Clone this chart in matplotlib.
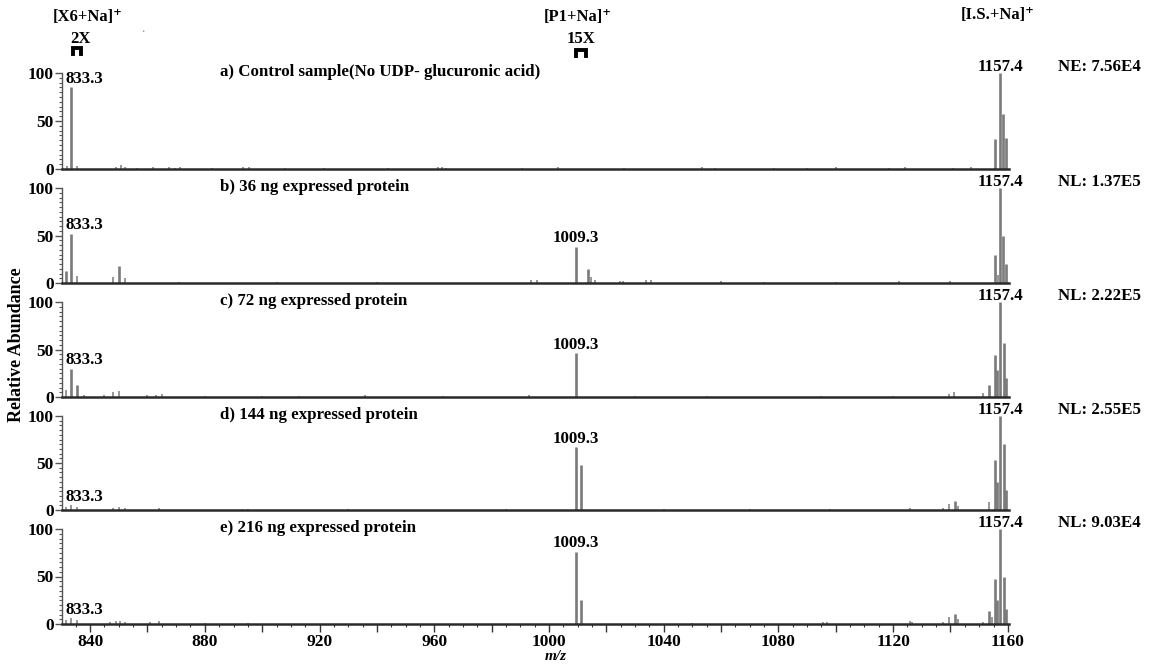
import matplotlib
matplotlib.use("Agg")
import matplotlib.pyplot as plt
import matplotlib.transforms as mtransforms
from matplotlib.ticker import MultipleLocator, FixedLocator, FixedFormatter
from matplotlib.lines import Line2D

plt.rcParams['font.family'] = ['Liberation Serif', 'DejaVu Serif']
plt.rcParams['font.weight'] = 'bold'

# ---------------- data ----------------
panel_titles = ["a) Control sample(No UDP- glucuronic acid)",
                "b) 36 ng expressed protein",
                "c) 72 ng expressed protein",
                "d) 144 ng expressed protein",
                "e) 216 ng expressed protein"]
norm_labels = ["NE: 7.56E4", "NL: 1.37E5", "NL: 2.22E5", "NL: 2.55E5", "NL: 9.03E4"]

mz_a = [831.8, 833.3, 835.5, 849.2, 850.6, 852.2, 856.3, 862.1, 867.6, 869.7, 871.4,
        882.5, 893.2, 895.4, 908.0, 921.6, 944.0, 961.3, 962.6, 964.2, 990.5, 1003.1,
        1026.0, 1053.2, 1058.0, 1078.4, 1090.0, 1100.2, 1118.5, 1124.3, 1141.0, 1147.2,
        1155.4, 1157.4, 1158.4, 1159.4]
int_a = [3, 85, 3, 2, 4, 2, 1.5, 2, 2, 1.5, 2,
         1.5, 2, 2, 1.5, 1.5, 1.5, 2, 2.5, 1.5, 1.5, 2,
         1.5, 2, 1.5, 1.5, 1.5, 2, 1.5, 2, 1.5, 2,
         31, 100, 57, 32]

mz_b = [831.7, 833.3, 835.5, 848.0, 850.0, 852.0, 871.0, 905.0, 940.0, 993.6, 995.7,
        1009.3, 1013.6, 1014.5, 1016.0, 1024.7, 1025.8, 1034.0, 1035.4, 1060.0, 1075.0,
        1100.0, 1122.0, 1140.0, 1155.4, 1156.4, 1157.4, 1158.4, 1159.4]
int_b = [13, 52, 7, 6, 18, 5, 1.5, 1.5, 1.5, 3, 3,
         38, 15, 6, 3, 2, 2, 3, 3, 2, 1.5,
         1.5, 2, 2, 30, 8, 100, 50, 20]

mz_c = [831.6, 833.3, 835.3, 838.0, 845.0, 848.0, 850.0, 860.0, 863.0, 865.0, 880.0,
        900.0, 913.0, 936.0, 963.0, 993.0, 1009.3, 1030.0, 1055.0, 1095.0, 1120.0,
        1139.5, 1141.3, 1151.3, 1153.5, 1155.4, 1156.3, 1157.4, 1158.5, 1159.5]
int_c = [7, 30, 13, 2, 2, 5, 6, 2, 2, 3, 1.5,
         1.5, 1.5, 2, 1.5, 2, 46, 1.5, 1.5, 1.5, 1.5,
         3, 5, 4, 13, 44, 28, 100, 57, 20]

mz_d = [831.6, 833.3, 835.3, 848.0, 850.0, 852.0, 864.0, 893.0, 895.0, 930.0, 985.0,
        1009.3, 1011.3, 1040.0, 1070.0, 1098.0, 1126.0, 1137.5, 1139.5, 1141.5, 1142.5,
        1153.5, 1155.4, 1156.3, 1157.4, 1158.5, 1159.5]
int_d = [3, 5, 3, 2, 3, 2, 2, 1.5, 1.5, 1.5, 1.5,
         67, 48, 1.5, 1.5, 1.5, 2, 2, 6, 10, 4,
         9, 53, 30, 100, 70, 21]

mz_e = [831.6, 833.3, 835.3, 847.0, 849.0, 850.5, 852.0, 861.0, 864.0, 880.0, 895.0,
        1009.3, 1011.3, 1050.0, 1095.5, 1097.0, 1125.8, 1126.5, 1137.3, 1139.5, 1141.5,
        1142.5, 1151.3, 1153.5, 1154.5, 1155.4, 1156.3, 1157.4, 1158.5, 1159.5]
int_e = [4, 6, 4, 2, 3, 3, 2, 2, 3, 1.5, 1.5,
         76, 25, 1.5, 2, 2, 3, 2, 2, 7, 11,
         5, 2, 14, 7, 47, 25, 100, 50, 16]

mz_series = [mz_a, mz_b, mz_c, mz_d, mz_e]
int_series = [int_a, int_b, int_c, int_d, int_e]

label_833 = 833.3
label_1009 = 1009.3
label_1157 = 1157.4
xticks_major = [840, 860, 880, 900, 920, 940, 960, 980, 1000, 1020, 1040, 1060, 1080,
                1100, 1120, 1140, 1160]
xtick_labels = ["840", "", "880", "", "920", "", "960", "", "1000", "", "1040", "",
                "1080", "", "1120", "", "1160"]

# ---------------- layout ----------------
W, H = 1153, 664
fig = plt.figure(figsize=(W / 100, H / 100), dpi=100)
left_px, right_px = 62, 1009
panels_px = [(73, 169), (188, 283), (302, 397), (416, 510), (529, 624)]
peak_col = '#7a7a7a'

for i, (top, bot) in enumerate(panels_px):
    ax = fig.add_axes([left_px / W, 1 - bot / H, (right_px - left_px) / W, (bot - top) / H])
    mz = mz_series[i]
    it = int_series[i]
    lws = [1.9 if v >= 10 else 1.1 for v in it]
    ax.vlines(mz, 0, it, colors=peak_col, linewidth=lws)
    ax.set_xlim(830.2, 1160.4)
    ax.set_ylim(0, 100)
    for s in ['top', 'right']:
        ax.spines[s].set_visible(False)
    ax.spines['left'].set_color('#555555')
    ax.spines['left'].set_linewidth(1.0)
    ax.spines['bottom'].set_color('#2a2a2a')
    ax.spines['bottom'].set_linewidth(1.8)
    ax.yaxis.set_major_locator(FixedLocator([0, 50, 100]))
    ax.yaxis.set_minor_locator(MultipleLocator(5))
    ax.tick_params(axis='y', which='major', direction='out', length=5, width=1,
                   color='#555555', labelsize=12.5, pad=1)
    ax.tick_params(axis='y', which='minor', direction='out', length=2.5, width=0.8,
                   color='#555555')
    for lab in ax.get_yticklabels():
        lab.set_fontweight('bold')
    if i == 4:
        ax.xaxis.set_major_locator(FixedLocator(xticks_major))
        ax.xaxis.set_major_formatter(FixedFormatter(xtick_labels))
        ax.xaxis.set_minor_locator(MultipleLocator(5))
        ax.tick_params(axis='x', which='major', direction='out', length=5.5, width=1,
                       color='#333333', labelsize=12.5, pad=2)
        ax.tick_params(axis='x', which='minor', direction='out', length=2.5, width=0.8,
                       color='#333333')
        for lab in ax.get_xticklabels():
            lab.set_fontweight('bold')
    else:
        ax.tick_params(axis='x', which='both', bottom=False, labelbottom=False)

    # panel title
    ax.text(0.1668, 101.5, panel_titles[i], transform=ax.get_yaxis_transform(),
            ha='left', va='center', fontsize=12.2, fontweight='bold', clip_on=False)
    # normalisation label
    ax.text(1058 / W, 106, norm_labels[i],
            transform=mtransforms.blended_transform_factory(fig.transFigure, ax.transData),
            ha='left', va='center', fontsize=12.2, fontweight='bold', clip_on=False)
    # peak labels
    h833 = it[mz.index(label_833)]
    ax.text(label_833 - 2.0, h833 + 0.5, f"{label_833:.1f}", ha='left', va='bottom',
            fontsize=12.2, fontweight='bold', clip_on=False)
    if label_1009 in mz:
        h1009 = it[mz.index(label_1009)]
        ax.text(label_1009, h1009 + 0.5, f"{label_1009:.1f}", ha='center', va='bottom',
                fontsize=12.2, fontweight='bold', clip_on=False)
    ax.text(label_1157, 106, f"{label_1157:.1f}", ha='center', va='center',
            fontsize=12.2, fontweight='bold', clip_on=False)

# axis labels
fig.text(17 / W, 1 - 345 / H, 'Relative Abundance', rotation=90, ha='center', va='center',
         fontsize=13, fontweight='bold')
fig.text(556 / W, 0.002, 'm/z', ha='center', va='bottom', fontsize=11,
         fontweight='bold', style='italic')

# top annotations
def ftext(x, y, s, ha='center', **kw):
    fig.text(x / W, 1 - y / H, s, ha=ha, va='center', fontweight='bold', **kw)

def bracket(cx, y0, y1, half=4):
    xs = [cx - half, cx - half, cx + half, cx + half]
    ys = [y1, y0, y0, y1]
    fig.add_artist(Line2D([x / W for x in xs], [1 - y / H for y in ys],
                          transform=fig.transFigure, color='black', linewidth=2.8,
                          solid_joinstyle='miter'))

ftext(88, 17, '[X6+Na]⁺', fontsize=12)
ftext(80, 39, '2X', fontsize=12)
bracket(77, 48, 54)
ftext(143, 33, '·', fontsize=7, color='#999999')
ftext(578, 17, '[P1+Na]⁺', fontsize=12)
ftext(581, 39, '15X', fontsize=12)
bracket(581, 50, 56, half=5)
ftext(1035, 15, '[I.S.+Na]⁺', ha='right', fontsize=12)

fig.savefig('out.png', dpi=100, facecolor='white')
